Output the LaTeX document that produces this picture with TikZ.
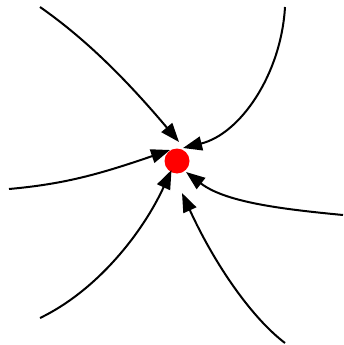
\documentclass[tikz,border=0pt]{standalone}
\usetikzlibrary{arrows.meta}
\begin{document}
\begin{tikzpicture}[x=1pt,y=-1pt,
  edge/.style={line width=2pt,-{Triangle[length=19pt,width=14pt]}},
  dot/.style={circle,fill=red,inner sep=0pt,minimum size=25pt}]
\useasboundingbox (0,0) rectangle (343,345);
\node[dot] (c) at (177,161) {};
\coordinate (s1) at (40,7);    \coordinate (t1) at (179,142);
\coordinate (s2) at (285,7);   \coordinate (t2) at (183,148);
\coordinate (s3) at (9,189);   \coordinate (t3) at (170,150);
\coordinate (s4) at (40,318);  \coordinate (t4) at (171.5,170);
\coordinate (s5) at (343,215); \coordinate (t5) at (186,172);
\coordinate (s6) at (285,343); \coordinate (t6) at (182,193);
\draw[edge] (s1) .. controls (80,35) and (120,72) .. (t1);
\draw[edge] (s2) .. controls (281,75) and (240,134) .. (t2);
\draw[edge] (s3) .. controls (65,184) and (100,174) .. (t3);
\draw[edge] (s4) .. controls (98,290) and (143,232) .. (t4);
\draw[edge] (s5) .. controls (280,209) and (225,202) .. (t5);
\draw[edge] (s6) .. controls (252,318) and (215,265) .. (t6);
\end{tikzpicture}
\end{document}
